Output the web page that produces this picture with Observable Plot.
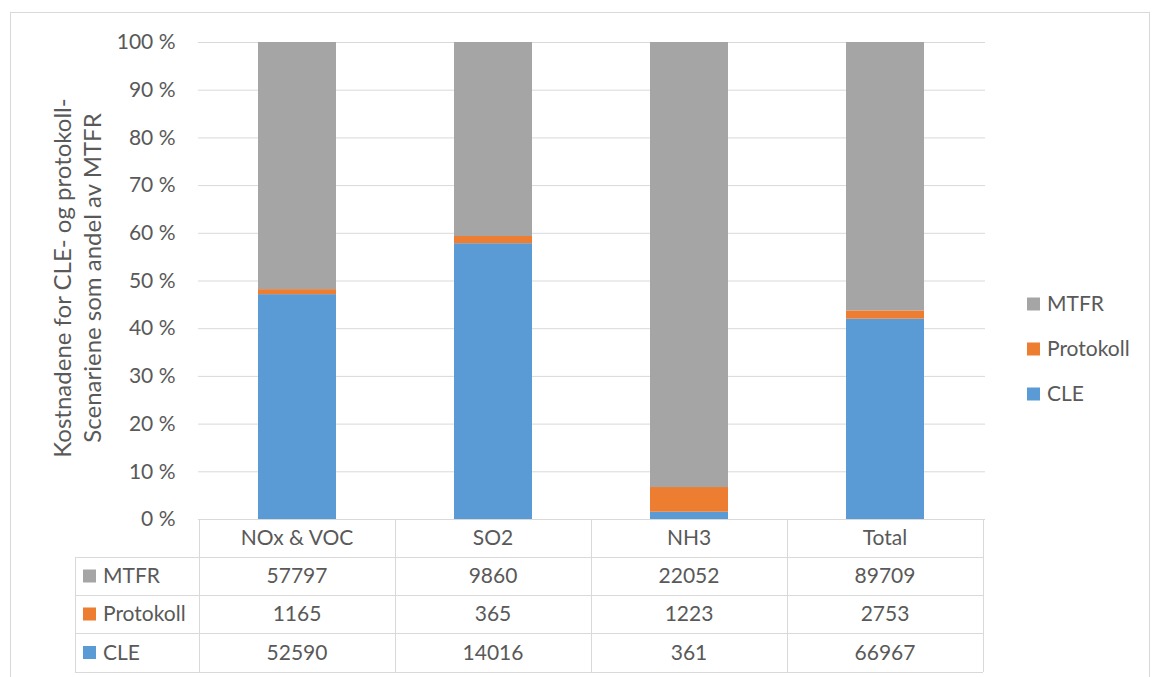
<!DOCTYPE html>
<html>
<head>
<meta charset="utf-8">
<script src="https://cdn.jsdelivr.net/npm/d3@7"></script>
<script src="https://cdn.jsdelivr.net/npm/@observablehq/plot@0.6"></script>
<style>
  html, body { margin: 0; padding: 0; background: #fff; }
  #chart svg { display: block; }
</style>
</head>
<body>
<div id="chart"></div>
<script>
const categories = ["NOx & VOC", "SO2", "NH3", "Total"];
const series = ["MTFR", "Protokoll", "CLE"]; // legend / table order (top to bottom)
const stackOrder = ["CLE", "Protokoll", "MTFR"]; // bottom to top
const colors = {MTFR: "#A5A5A5", Protokoll: "#ED7D31", CLE: "#5B9BD5"};
const MTFR = [57797, 9860, 22052, 89709];
const Protokoll = [1165, 365, 1223, 2753];
const CLE = [52590, 14016, 361, 66967];
const yTicks = [0, 0.1, 0.2, 0.3, 0.4, 0.5, 0.6, 0.7, 0.8, 0.9, 1];
const yTitle = ["Kostnadene for CLE- og protokoll-", "Scenariene som andel av MTFR"];

const values = {MTFR, Protokoll, CLE};
const data = [];
for (const s of stackOrder) categories.forEach((c, i) => data.push({cat: c, series: s, value: values[s][i]}));

const font = "Lato, 'Open Sans', sans-serif";
const textColor = "#595959";
const lineColor = "#D9D9D9";
const fs = 21;

const W = 1152, H = 677;
const plot = Plot.plot({
  width: W, height: H,
  marginLeft: 198, marginRight: 167, marginTop: 42, marginBottom: 158,
  style: {fontFamily: font, background: "#fff", overflow: "visible"},
  x: {domain: categories, paddingInner: 0.6, paddingOuter: 0.3, axis: null},
  y: {domain: [0, 1], axis: null},
  color: {domain: series, range: series.map(s => colors[s])},
  marks: [
    Plot.gridY(yTicks, {stroke: lineColor, strokeOpacity: 1, strokeWidth: 1}),
    Plot.axisY(yTicks, {tickSize: 0, tickPadding: 23, fontSize: fs, fill: textColor,
      tickFormat: d => Math.round(d * 100) + " %", label: null}),
    Plot.barY(data, Plot.stackY({offset: "normalize", order: stackOrder,
      x: "cat", y: "value", fill: "series"}))
  ]
});

const svg = d3.select(plot);
const xs = plot.scale("x");
const step = xs.step, bw = xs.bandwidth;
const colLeft = c => xs.apply(c) - (step - bw) / 2;
const x1 = colLeft(categories[categories.length - 1]) + step;
const rowTops = [519, 557, 595, 633, 672];
const tableLeft = 75;

const g = svg.append("g").attr("font-family", font).attr("text-anchor", "start");

// outer chart border
g.append("rect").attr("x", 10.5).attr("y", 12.5).attr("width", 1139).attr("height", 700)
  .attr("fill", "none").attr("stroke", lineColor);

// table lines
for (let r = 1; r < rowTops.length; r++) {
  g.append("line").attr("x1", tableLeft).attr("x2", x1)
    .attr("y1", rowTops[r] + 0.5).attr("y2", rowTops[r] + 0.5).attr("stroke", lineColor);
}
g.append("line").attr("x1", tableLeft + 0.5).attr("x2", tableLeft + 0.5)
  .attr("y1", rowTops[1]).attr("y2", rowTops[4]).attr("stroke", lineColor);
const colEdges = categories.map(colLeft).concat([x1]);
for (const e of colEdges) {
  g.append("line").attr("x1", Math.round(e) + 0.5).attr("x2", Math.round(e) + 0.5)
    .attr("y1", rowTops[0]).attr("y2", rowTops[4]).attr("stroke", lineColor);
}

// header row
categories.forEach(c => {
  g.append("text").attr("x", xs.apply(c) + bw / 2).attr("y", (rowTops[0] + rowTops[1]) / 2)
    .attr("dy", "0.35em").attr("text-anchor", "middle").attr("font-size", fs)
    .attr("fill", textColor).text(c);
});
// data rows
series.forEach((s, r) => {
  const yc = (rowTops[r + 1] + rowTops[r + 2]) / 2;
  g.append("rect").attr("x", 83).attr("y", yc - 6.5).attr("width", 13).attr("height", 13).attr("fill", colors[s]);
  g.append("text").attr("x", 103).attr("y", yc).attr("dy", "0.35em").attr("font-size", fs)
    .attr("text-anchor", "start").attr("fill", textColor).text(s);
  categories.forEach((c, i) => {
    g.append("text").attr("x", xs.apply(c) + bw / 2).attr("y", yc).attr("dy", "0.35em")
      .attr("text-anchor", "middle").attr("font-size", fs).attr("fill", textColor).text(values[s][i]);
  });
});

// legend
const legendY = [304, 349, 394];
series.forEach((s, i) => {
  g.append("rect").attr("x", 1027).attr("y", legendY[i] - 6.5).attr("width", 13).attr("height", 13).attr("fill", colors[s]);
  g.append("text").attr("x", 1047).attr("y", legendY[i]).attr("dy", "0.35em").attr("font-size", fs)
    .attr("text-anchor", "start").attr("fill", textColor).text(s);
});

// y-axis title
const yt = g.append("text").attr("transform", "translate(0,278) rotate(-90)")
  .attr("text-anchor", "middle").attr("font-size", 24).attr("fill", textColor);
yt.append("tspan").attr("x", 0).attr("y", 71).text(yTitle[0]);
yt.append("tspan").attr("x", 0).attr("y", 101).text(yTitle[1]);

document.getElementById("chart").appendChild(plot);
</script>
</body>
</html>
